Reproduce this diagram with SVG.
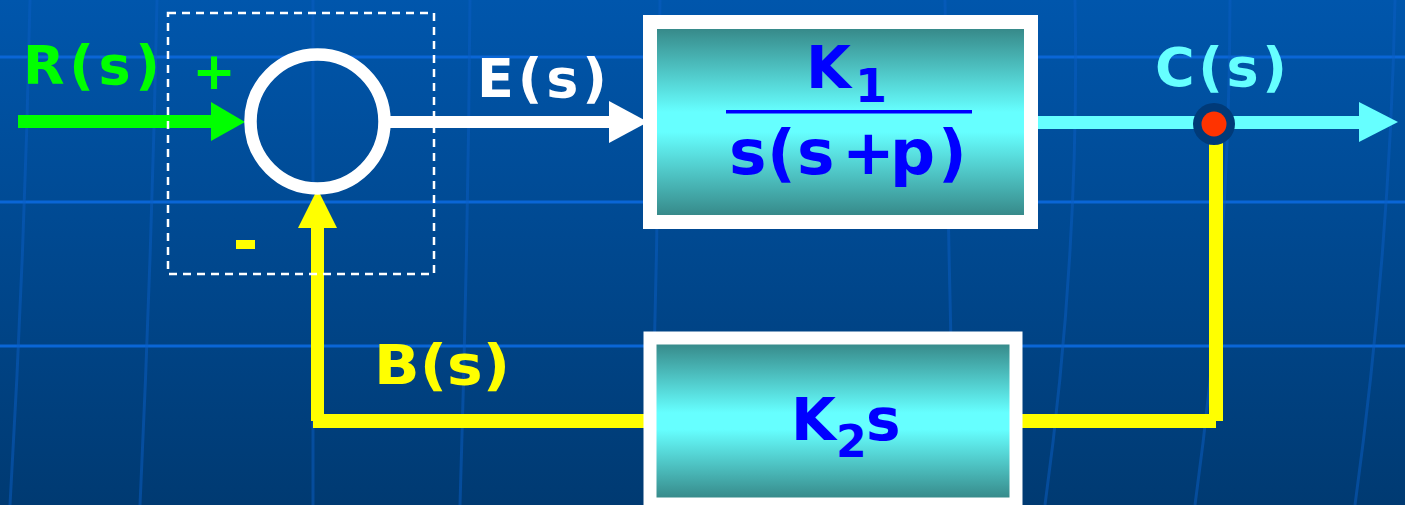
<svg xmlns="http://www.w3.org/2000/svg" width="1405" height="505" viewBox="0 0 1405 505">
<defs>
<linearGradient id="bg" x1="0" y1="0" x2="0" y2="1"><stop offset="0" stop-color="#0056AC"/><stop offset="1" stop-color="#003A72"/></linearGradient>
<linearGradient id="blk" x1="0" y1="0" x2="0" y2="1"><stop offset="0" stop-color="#338080"/><stop offset="0.45" stop-color="#66FFFF"/><stop offset="0.55" stop-color="#66FFFF"/><stop offset="1" stop-color="#338080"/></linearGradient>
<style>
.t{font-family:"DejaVu Sans",Verdana,sans-serif;font-weight:bold;}
.grid{stroke:#0A66D6;stroke-width:3;fill:none;}
.vg{stroke:#0A5EC4;stroke-width:3;fill:none;opacity:0.5;}
.y{fill:#FFFF00;}
</style>
</defs>
<rect width="1405" height="505" fill="url(#bg)"/>
<g id="background-grid">
<path class="grid" d="M0 57H1405M0 202H1405M0 346H1405"/>
<path class="vg" d="M157 0Q152 250 140 505M313 0V505M470 0Q468 250 460 505M660 0Q658 250 650 505M945 0Q948 250 955 505M1075 0Q1080 250 1045 505M1230 0Q1230 250 1195 505M1395 0Q1390 250 1355 505M30 0Q25 250 10 505"/>
</g>
<g id="connectors">
<rect x="18" y="115" width="196" height="13" fill="#00FF00"/>
<polygon points="211,102 245,122 211,141" fill="#00FF00"/>
<rect x="388" y="116" width="225" height="12" fill="#FFFFFF"/>
<polygon points="609,101 648,122 609,143" fill="#FFFFFF"/>
<rect x="1036" y="116" width="326" height="13" fill="#66FFFF"/>
<polygon points="1359,102 1398,122 1359,142" fill="#66FFFF"/>
<rect x="1209" y="140" width="14" height="281" class="y"/>
<rect x="1016" y="414" width="200" height="14" class="y"/>
<rect x="313" y="414" width="332" height="14" class="y"/>
<rect x="311" y="225" width="13" height="196" class="y"/>
<polygon points="298,228 317.5,189 337,228" class="y"/>
</g>
<g id="summing-junction">
<rect x="168" y="13" width="266" height="261" fill="none" stroke="#FFFFFF" stroke-width="2.5" stroke-dasharray="8,6"/>
<circle cx="317.5" cy="121.5" r="67" fill="none" stroke="#FFFFFF" stroke-width="12.5"/>
<text class="t" x="214" y="89" font-size="52" fill="#00FF00" text-anchor="middle">+</text>
<rect x="236" y="240" width="19" height="9" class="y"/>
</g>
<g id="labels">
<text class="t" x="23" y="84" font-size="54" fill="#00FF00" textLength="137" lengthAdjust="spacing">R(s)</text>
<text class="t" x="477" y="97" font-size="54" fill="#FFFFFF" textLength="130" lengthAdjust="spacing">E(s)</text>
<text class="t" x="1155" y="86" font-size="54" fill="#66FFFF" textLength="132" lengthAdjust="spacing">C(s)</text>
<text class="t" x="374" y="384" font-size="56" fill="#FFFF00" textLength="136" lengthAdjust="spacingAndGlyphs">B(s)</text>
</g>
<g id="block-forward">
<rect x="650" y="22" width="381" height="200" fill="url(#blk)" stroke="#FFFFFF" stroke-width="14"/>
<text class="t" font-size="58" fill="#0000FF"><tspan x="806" y="88">K</tspan><tspan x="855" y="102" font-size="46">1</tspan></text>
<rect x="726" y="110" width="246" height="3.5" fill="#0000FF"/>
<text class="t" x="729 767 797 842 890 938" y="174" font-size="63" fill="#0000FF">s(s+p)</text>
</g>
<g id="block-feedback">
<rect x="650" y="338" width="366" height="166" fill="url(#blk)" stroke="#FFFFFF" stroke-width="13"/>
<text class="t" font-size="58" fill="#0000FF"><tspan x="791" y="440">K</tspan><tspan x="836" y="457" font-size="44">2</tspan><tspan x="866" y="440">s</tspan></text>
</g>
<g id="takeoff-point">
<circle cx="1214" cy="124" r="21" fill="#003A78"/>
<circle cx="1214" cy="124" r="12.5" fill="#FF3300"/>
</g>
</svg>
